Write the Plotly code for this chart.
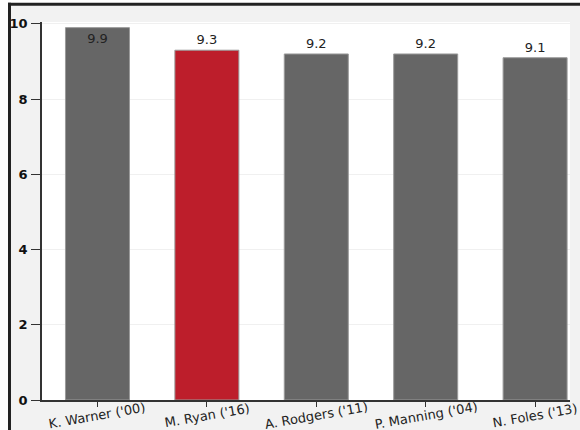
import plotly.graph_objects as go

players = ["K. Warner ('00)", "M. Ryan ('16)", "A. Rodgers ('11)", "P. Manning ('04)", "N. Foles ('13)"]
values = [9.9, 9.3, 9.2, 9.2, 9.1]
value_labels = ["9.9", "9.3", "9.2", "9.2", "9.1"]
y_ticks = [0, 2, 4, 6, 8, 10]

GRAY = "#666666"
RED = "#bd1e2b"
colors = [RED if p.startswith("M. Ryan") else GRAY for p in players]
text_pos = ["inside" if v >= 9.6 else "outside" for v in values]

FONT = "DejaVu Sans"

fig = go.Figure()
fig.add_trace(go.Bar(
    x=players, y=values,
    width=0.585,
    marker=dict(color=colors, line=dict(color="#9a9a9a", width=1)),
    text=value_labels,
    textposition=text_pos,
    insidetextanchor="end",
    textfont=dict(family=FONT, size=13, color="#222222"),
    cliponaxis=False,
    hoverinfo="skip",
))

# category labels, slightly tilted and centred on each tick
for p in players:
    fig.add_annotation(
        x=p, y=0, xref="x", yref="y",
        text=p, showarrow=False, textangle=-10,
        xanchor="center", yanchor="middle", yshift=-15,
        font=dict(family=FONT, size=13, color="#222222"),
    )

W, H = 580, 430
ml, mr, mt, mb = 42, 10, 22, 30
pw, ph = W - ml - mr, H - mt - mb

def px_x(px):
    return (px - ml) / pw

def px_y(py):
    return 1 - (py - mt) / ph

bx, by = 9.5, 4.3
shapes = [
    # white strips outside the frame
    dict(type="rect", xref="paper", yref="paper", x0=px_x(-5), x1=px_x(bx), y0=px_y(H + 5), y1=px_y(-5),
         fillcolor="white", line=dict(width=0), layer="below"),
    dict(type="rect", xref="paper", yref="paper", x0=px_x(-5), x1=px_x(W + 5), y0=px_y(by), y1=px_y(-5),
         fillcolor="white", line=dict(width=0), layer="below"),
    # frame lines
    dict(type="line", xref="paper", yref="paper", x0=px_x(bx), x1=px_x(bx), y0=px_y(H + 5), y1=px_y(by - 1.5),
         line=dict(color="#222222", width=3), layer="below"),
    dict(type="line", xref="paper", yref="paper", x0=px_x(bx - 1.5), x1=px_x(W + 5), y0=px_y(by), y1=px_y(by),
         line=dict(color="#222222", width=3), layer="below"),
]

fig.update_layout(
    width=W, height=H,
    margin=dict(l=ml, r=mr, t=mt, b=mb, autoexpand=False),
    paper_bgcolor="#f2f2f2",
    plot_bgcolor="white",
    showlegend=False,
    shapes=shapes,
    xaxis=dict(
        type="category",
        range=[-0.507, 4.319],
        showticklabels=False,
        automargin=False,
        ticks="outside", ticklen=5, tickcolor="#333333",
        showline=True, linecolor="#333333", linewidth=1.5,
        showgrid=False, zeroline=False, fixedrange=True,
    ),
    yaxis=dict(
        range=[0, 10.05],
        tickvals=y_ticks,
        ticktext=[str(t) for t in y_ticks],
        tickfont=dict(family=FONT, size=13, color="#111111", weight="bold"),
        automargin=False,
        ticks="outside", ticklen=9, tickcolor="#333333",
        ticklabelstandoff=1,
        showline=True, linecolor="#333333", linewidth=1.5,
        showgrid=True, gridcolor="#f0f0f0", gridwidth=1,
        zeroline=False, fixedrange=True,
    ),
)

fig.write_html(
    "out.html",
    config={"displayModeBar": False},
    post_script="document.body.style.margin='0';document.body.style.overflow='hidden';",
)
